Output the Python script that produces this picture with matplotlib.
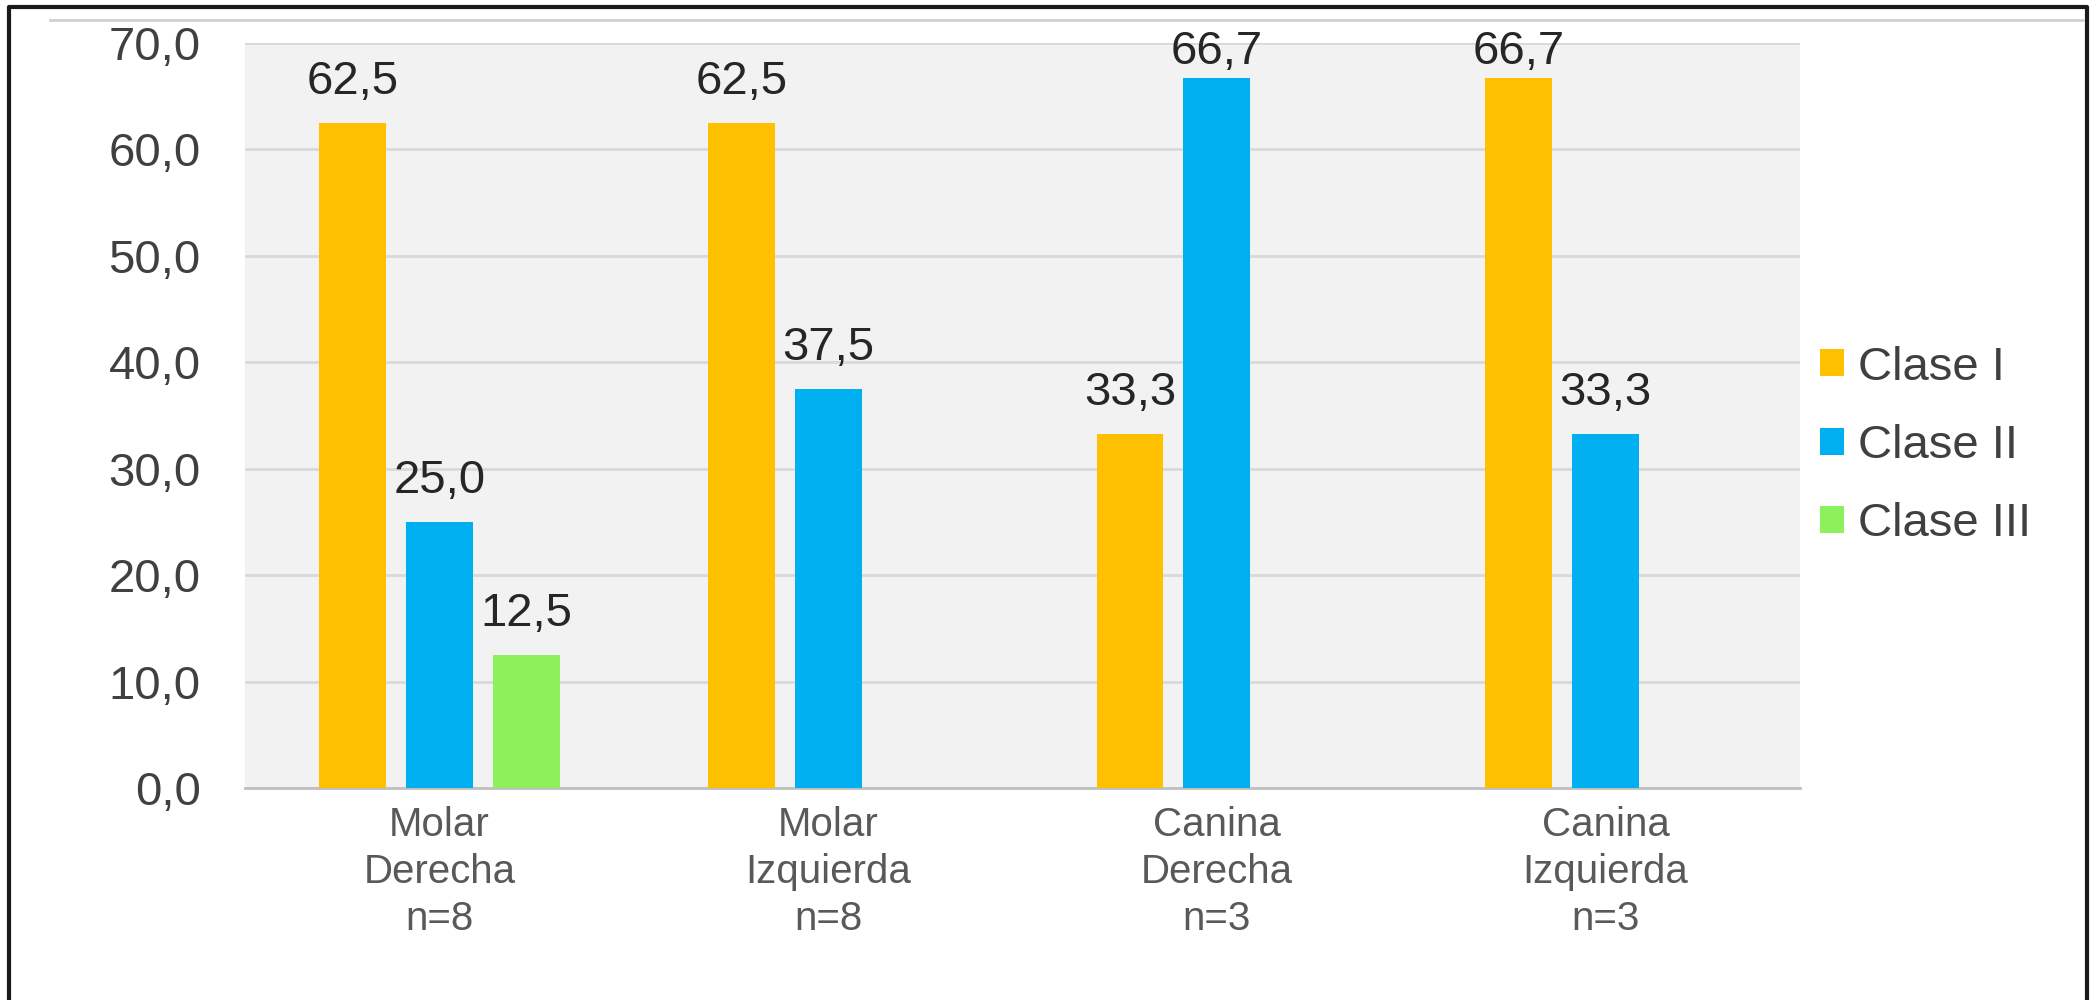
import numpy as np
import matplotlib
matplotlib.use("Agg")
import matplotlib.pyplot as plt
from matplotlib.patches import Patch
from matplotlib.lines import Line2D

# data
categories = ["Molar\nDerecha\nn=8", "Molar\nIzquierda\nn=8",
              "Canina\nDerecha\nn=3", "Canina\nIzquierda\nn=3"]
series = ["Clase I", "Clase II", "Clase III"]
clase_1 = [62.5, 62.5, 33.3, 66.7]
clase_2 = [25.0, 37.5, 66.7, 33.3]
clase_3 = [12.5, None, None, None]
yticks = [0, 10, 20, 30, 40, 50, 60, 70]

colors = ["#FFC000", "#00B0F0", "#8CF15A"]

plt.rcParams['font.family'] = ['Liberation Sans', 'DejaVu Sans']

fig = plt.figure(figsize=(20.94, 10), dpi=100)
ax = fig.add_axes([0.117, 0.212, 0.7426, 0.745])
ax.set_facecolor("#F2F2F2")

x = np.arange(len(categories))
slot = 0.2234
width = 0.172
label_cap = 68.0  # labels near the top are pushed down to stay in the chart
for i, (vals, col) in enumerate(zip([clase_1, clase_2, clase_3], colors)):
    for xi, v in zip(x, vals):
        if v is None:
            continue
        ax.bar(xi + (i - 1) * slot, v, width=width, color=col, zorder=3)
        ax.text(xi + (i - 1) * slot, min(v + 2.7, label_cap),
                f"{v:.1f}".replace(".", ","),
                ha="center", va="baseline", fontsize=34, color="#262626")

ax.set_xlim(-0.5, 3.5)
ax.set_ylim(0, 70)
ax.set_yticks(yticks)
ax.set_yticklabels([f"{t:.1f}".replace(".", ",") for t in yticks],
                   fontsize=34, color="#404040")
ax.set_xticks(x)
ax.set_xticklabels(categories, fontsize=29, color="#595959",
                   linespacing=1.3)
ax.tick_params(axis="y", length=0, pad=32)
ax.tick_params(axis="x", length=0, pad=13)
ax.grid(axis="y", color="#D9D9D9", linewidth=2, zorder=0)
for s in ["top", "right", "left"]:
    ax.spines[s].set_visible(False)
ax.spines["bottom"].set_color("#BFBFBF")
ax.spines["bottom"].set_linewidth(2)

handles = [Patch(facecolor=c, label=s) for c, s in zip(colors, series)]
fig.legend(handles=handles, loc="center left", bbox_to_anchor=(0.849, 0.554),
           frameon=False, fontsize=34, labelcolor="#404040",
           handlelength=0.5, handleheight=0.5, handletextpad=0.3,
           labelspacing=0.73)

# outer frame (open at the bottom) and stray top rule
fig.add_artist(Line2D([0.0045, 0.0045, 0.9967, 0.9967], [0.0, 0.993, 0.993, 0.0],
                      transform=fig.transFigure, color="#1a1a1a", linewidth=3))
fig.add_artist(Line2D([0.024, 0.9947], [0.980, 0.980],
                      transform=fig.transFigure, color="#D0D0D0", linewidth=2))

fig.savefig("out.png", dpi=100, facecolor="white")
